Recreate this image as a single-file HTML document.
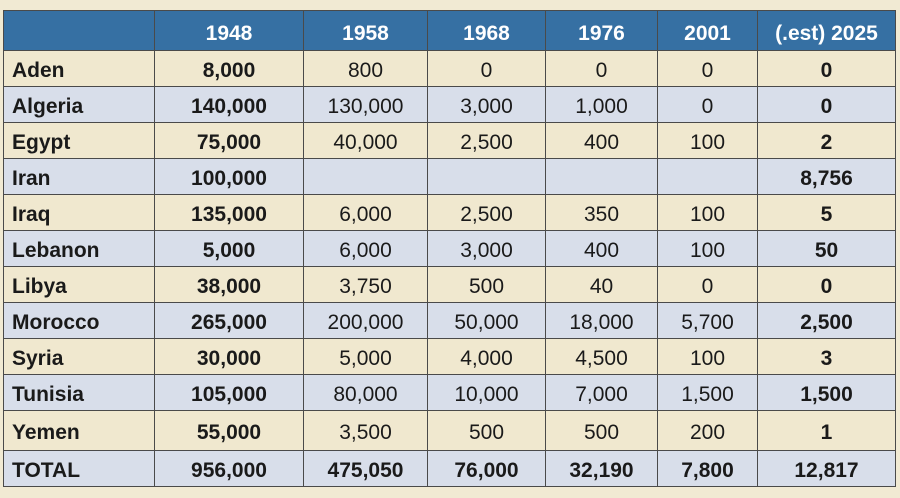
<!DOCTYPE html>
<html><head><meta charset="utf-8"><style>
body{margin:0;width:900px;height:498px;background:#f1ead3;overflow:hidden;font-family:"Liberation Sans",sans-serif;}
table{position:absolute;left:3px;top:10px;border-collapse:collapse;table-layout:fixed;}
td,th{border:1.5px solid #4a4a4a;padding:0;text-align:center;font-size:21px;color:#1a1a1a;white-space:nowrap;box-sizing:border-box;}
th{background:#3670a3;color:#fff;font-weight:bold;height:40px;padding-top:6px;}
td:first-child{text-align:left;padding-left:8px;font-weight:bold;}
td.b{font-weight:bold;}
tr.c td{background:#f0e8cf;}
tr.g td{background:#d8deea;}
tr td{height:36px;padding-top:4px;}
</style></head><body>
<table>
<colgroup><col style="width:151px"><col style="width:149px"><col style="width:124px"><col style="width:118px"><col style="width:112px"><col style="width:100px"><col style="width:138px"></colgroup>
<tr><th></th><th>1948</th><th>1958</th><th>1968</th><th>1976</th><th>2001</th><th>(.est) 2025</th></tr>
<tr class="c"><td>Aden</td><td class="b">8,000</td><td>800</td><td>0</td><td>0</td><td>0</td><td class="b">0</td></tr>
<tr class="g"><td>Algeria</td><td class="b">140,000</td><td>130,000</td><td>3,000</td><td>1,000</td><td>0</td><td class="b">0</td></tr>
<tr class="c"><td>Egypt</td><td class="b">75,000</td><td>40,000</td><td>2,500</td><td>400</td><td>100</td><td class="b">2</td></tr>
<tr class="g"><td>Iran</td><td class="b">100,000</td><td></td><td></td><td></td><td></td><td class="b">8,756</td></tr>
<tr class="c"><td>Iraq</td><td class="b">135,000</td><td>6,000</td><td>2,500</td><td>350</td><td>100</td><td class="b">5</td></tr>
<tr class="g"><td>Lebanon</td><td class="b">5,000</td><td>6,000</td><td>3,000</td><td>400</td><td>100</td><td class="b">50</td></tr>
<tr class="c"><td>Libya</td><td class="b">38,000</td><td>3,750</td><td>500</td><td>40</td><td>0</td><td class="b">0</td></tr>
<tr class="g"><td>Morocco</td><td class="b">265,000</td><td>200,000</td><td>50,000</td><td>18,000</td><td>5,700</td><td class="b">2,500</td></tr>
<tr class="c"><td>Syria</td><td class="b">30,000</td><td>5,000</td><td>4,000</td><td>4,500</td><td>100</td><td class="b">3</td></tr>
<tr class="g"><td>Tunisia</td><td class="b">105,000</td><td>80,000</td><td>10,000</td><td>7,000</td><td>1,500</td><td class="b">1,500</td></tr>
<tr class="c"><td style="height:40px">Yemen</td><td class="b">55,000</td><td>3,500</td><td>500</td><td>500</td><td>200</td><td class="b">1</td></tr>
<tr class="g"><td>TOTAL</td><td class="b">956,000</td><td class="b">475,050</td><td class="b">76,000</td><td class="b">32,190</td><td class="b">7,800</td><td class="b">12,817</td></tr>
</table>
</body></html>
